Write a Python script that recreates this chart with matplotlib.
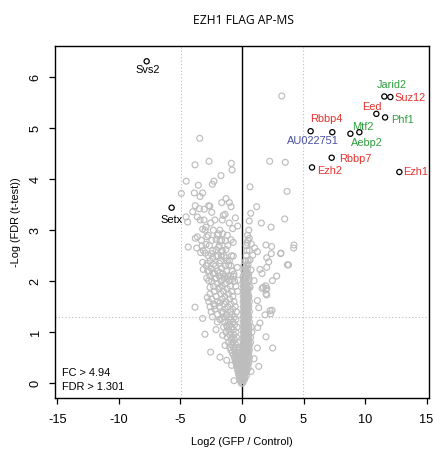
import matplotlib
matplotlib.use("Agg")
import matplotlib.pyplot as plt

# ---------------- data ----------------
title = "EZH1 FLAG AP-MS"
x_label = "Log2 (GFP / Control)"
y_label = "-Log (FDR (t-test))"
x_ticks = [-15, -10, -5, 0, 5, 10, 15]
y_ticks = [0, 1, 2, 3, 4, 5, 6]
fc_cut = 4.94
fdr_cut = 1.301

genes = ["Svs2", "Setx", "Jarid2", "Suz12", "Eed", "Phf1", "Rbbp4", "AU022751",
         "Mtf2", "Aebp2", "Rbbp7", "Ezh2", "Ezh1"]
gene_x = [-7.75, -5.72, 11.57, 12.06, 10.92, 11.63, 7.34, 5.58, 9.54, 8.81, 7.29, 5.69, 12.79]
gene_y = [6.31, 3.44, 5.62, 5.61, 5.28, 5.21, 4.92, 4.94, 4.92, 4.89, 4.42, 4.23, 4.14]
gene_group = ["none", "none", "green", "red", "red", "green", "red", "blue",
              "green", "green", "red", "red", "red"]

# scattered (individually readable) background proteins
grey_points = [
    (3.23, 5.63), (-3.44, 4.80), (-3.82, 4.28), (-2.68, 4.35), (-0.87, 4.31), (-0.81, 4.18),
    (-1.71, 4.07), (-2.28, 3.96), (-2.41, 3.90), (-3.55, 3.88), (-4.53, 3.96), (-4.93, 3.72),
    (-3.88, 3.73), (-3.20, 3.73), (2.25, 4.35), (3.52, 4.33), (0.65, 3.85), (3.66, 3.76),
    (-3.41, 3.66), (-3.80, 3.48), (-3.47, 3.42), (-3.07, 3.41), (-2.71, 3.48), (-2.62, 3.47),
    (-4.01, 3.36), (-2.46, 3.35), (-1.65, 3.54), (-1.30, 3.62), (-1.03, 3.54), (-0.89, 3.46),
    (-1.52, 3.29), (-1.38, 3.31), (-0.54, 3.24), (-4.55, 3.26), (-4.42, 3.16), (-3.63, 3.26),
    (-3.09, 3.20), (-2.55, 3.14), (-2.93, 3.06), (-3.20, 3.02), (-2.33, 3.00), (-1.92, 2.93),
    (-1.57, 2.93), (-1.03, 3.14), (-0.35, 3.08), (-0.76, 3.03), (-3.63, 2.87), (-3.80, 2.84),
    (-2.87, 2.87), (-2.11, 2.82), (-1.79, 2.79), (-1.36, 2.79), (-0.89, 2.81), (-0.71, 2.76),
    (-4.37, 2.67), (-3.68, 2.65), (-3.25, 2.69), (-2.93, 2.72), (-3.36, 2.56), (-2.98, 2.55),
    (-2.50, 2.54), (-2.11, 2.62), (-1.89, 2.66), (-1.65, 2.59), (-1.30, 2.62), (-2.38, 2.46),
    (-2.06, 2.48), (-1.68, 2.49), (-1.30, 2.46), (-1.03, 2.40), (-3.20, 2.37), (-2.82, 2.35),
    (-2.33, 2.33), (-1.85, 2.35), (-1.08, 2.32), (-0.71, 2.49), (-3.15, 2.23), (-2.66, 2.20),
    (-2.22, 2.15), (-1.79, 2.17), (-1.41, 2.09), (-0.92, 2.10), (-0.65, 2.14), (-0.38, 2.27),
    (-2.87, 2.06), (-2.71, 2.01), (-2.11, 2.06), (-1.63, 2.03), (-1.20, 2.05), (-0.87, 2.03),
    (-2.60, 1.88), (-1.79, 1.88), (-0.30, 2.02),
    (1.19, 3.46), (0.71, 3.33), (0.59, 3.18), (1.57, 3.14), (2.36, 3.06), (3.47, 3.22),
    (0.59, 2.84), (0.43, 2.75), (0.76, 2.73), (1.03, 2.65), (1.25, 2.58), (1.95, 2.71),
    (2.41, 2.68), (2.38, 2.54), (3.14, 2.54), (4.23, 2.71), (4.20, 2.65), (0.87, 2.51),
    (0.65, 2.42), (0.49, 2.33), (2.01, 2.46), (2.17, 2.38), (2.01, 2.27), (3.69, 2.32),
    (3.78, 2.32), (0.73, 2.22), (0.54, 2.14), (1.46, 2.23), (1.63, 2.15), (2.82, 2.10),
    (0.59, 2.04), (0.98, 2.01), (1.73, 1.88), (2.01, 1.86), (0.65, 1.88),
    (-3.82, 1.49), (-3.20, 1.27), (-3.01, 0.96), (-2.11, 1.05), (-2.55, 0.61), (-2.82, 1.68),
    (-2.20, 1.52), (-1.79, 1.58), (-1.52, 1.39), (-1.65, 1.26), (-1.24, 1.13), (-1.57, 0.94),
    (-1.38, 0.74), (-1.79, 0.51), (-1.24, 0.45), (-0.84, 0.35), (-0.65, 0.05), (1.25, 1.62),
    (1.36, 1.48), (2.44, 1.43), (2.33, 1.36), (1.87, 1.34), (1.46, 1.18), (1.28, 1.09),
    (1.95, 0.91), (2.49, 0.69), (1.25, 0.69), (1.36, 0.33), (0.73, 0.23), (0.98, 0.48),
    (2.01, 1.73), (1.63, 1.86), (1.95, 1.83), (3.17, 2.55), (2.47, 2.01), (1.93, 1.91),
    (1.95, 1.75), (2.28, 1.42),
]

# dense core near zero, read row by row: y value -> x values of the circles in that row
core_rows = {
    0.00: [-0.05, 0.05],
    0.05: [-0.15, 0.0, 0.15],
    0.10: [-0.2, -0.05, 0.1, 0.25],
    0.15: [-0.25, -0.1, 0.05, 0.2, 0.35],
    0.20: [-0.3, -0.15, 0.0, 0.15, 0.3],
    0.25: [-0.35, -0.2, -0.05, 0.1, 0.25, 0.4],
    0.30: [-0.4, -0.25, -0.1, 0.05, 0.2, 0.35, 0.5],
    0.35: [-0.45, -0.3, -0.15, 0.0, 0.15, 0.3, 0.45],
    0.40: [-0.5, -0.35, -0.2, -0.05, 0.1, 0.25, 0.4, 0.55],
    0.45: [-0.55, -0.4, -0.25, -0.1, 0.05, 0.2, 0.35, 0.5],
    0.50: [-0.6, -0.45, -0.3, -0.15, 0.0, 0.15, 0.3, 0.45, 0.6],
    0.55: [-0.7, -0.5, -0.35, -0.2, 0.05, 0.2, 0.35, 0.5],
    0.60: [-0.8, -0.55, -0.4, -0.25, 0.1, 0.25, 0.4, 0.55],
    0.65: [-0.9, -0.6, -0.3, 0.15, 0.3, 0.45, 0.6],
    0.70: [-1.0, -0.7, -0.45, -0.2, 0.1, 0.25, 0.4, 0.55],
    0.75: [-0.85, -0.5, 0.15, 0.3, 0.45, 0.6],
    0.80: [-1.1, -0.75, -0.35, 0.1, 0.25, 0.4, 0.55, 0.7],
    0.85: [-0.9, -0.6, 0.2, 0.35, 0.5],
    0.90: [-1.2, -0.8, -0.45, 0.1, 0.25, 0.4, 0.55, 0.7],
    0.95: [-1.0, -0.65, 0.2, 0.35, 0.5],
    1.00: [-1.3, -0.9, -0.5, 0.1, 0.25, 0.4, 0.55, 0.8],
    1.05: [-1.1, -0.7, 0.2, 0.35, 0.5],
    1.10: [-1.5, -1.2, -0.85, -0.4, 0.1, 0.25, 0.4, 0.55, 0.75],
    1.15: [-1.0, -0.6, 0.2, 0.35, 0.5],
    1.20: [-2.0, -1.4, -1.1, -0.75, 0.1, 0.25, 0.4, 0.6],
    1.25: [-1.8, -0.9, -0.5, 0.2, 0.35, 0.5],
    1.30: [-2.4, -1.5, -1.0, -0.6, 0.1, 0.25, 0.4, 0.55],
    1.35: [-2.0, -1.25, -0.8, 0.2, 0.35, 0.5],
    1.40: [-2.5, -1.65, -0.95, -0.45, 0.1, 0.25, 0.4, 0.6],
    1.45: [-2.2, -1.35, -0.75, 0.2, 0.35, 0.5],
    1.50: [-2.6, -1.85, -1.15, -0.55, 0.1, 0.25, 0.4, 0.55],
    1.55: [-2.3, -1.45, -0.9, 0.2, 0.35, 0.5],
    1.60: [-2.7, -2.0, -1.3, -0.65, 0.1, 0.25, 0.4, 0.6],
    1.65: [-2.45, -1.6, -1.0, 0.2, 0.35, 0.5],
    1.70: [-2.1, -1.4, -0.75, 0.1, 0.25, 0.4, 0.55],
    1.75: [-2.6, -1.7, -1.1, 0.2, 0.35, 0.5],
    1.80: [-2.25, -1.5, -0.85, -0.35, 0.1, 0.25, 0.4],
    1.85: [-1.9, -1.2, 0.2, 0.35, 0.5],
    1.90: [-2.3, -1.6, -0.95, -0.5, 0.1, 0.25, 0.4, 0.6],
    1.95: [-2.0, -1.35, 0.2, 0.35],
    2.00: [-2.45, -1.7, -1.05, -0.6, 0.1, 0.25, 0.45],
    2.05: [-2.2, -1.45, 0.2, 0.35],
    2.10: [-2.6, -1.85, -1.15, -0.7, 0.1, 0.3, 0.5],
    2.15: [-2.35, -1.55, 0.25, 0.4],
    2.20: [-2.8, -2.0, -1.25, -0.8, 0.15, 0.35],
    2.25: [-2.5, -1.65, 0.25, 0.45],
    2.30: [-2.9, -2.15, -1.35, -0.9, 0.15, 0.35],
    2.40: [-2.6, -1.75, -1.2, 0.3, 0.5],
    2.50: [-2.75, -1.95, -1.45, -0.85, 0.35],
    2.60: [-3.15, -2.4, -1.6, 0.4, 0.6],
    2.70: [-2.65, -1.85, -1.15, 0.35],
    2.80: [-3.3, -2.45, -1.65, 0.5],
    2.90: [-2.75, -2.0, -1.2, 0.45],
    3.00: [-3.0, -1.8, 0.55],
    3.20: [-3.4, -2.2, -1.6],
}

# ---------------- style ----------------
colors = {"none": "black", "red": "#e8322e", "green": "#2f9e3f", "blue": "#4b4fa3"}
grey = "#bdbdbd"
plt.rcParams["font.family"] = ["Liberation Sans", "DejaVu Sans"]
fs = 7.9

# label offsets in points (dx, dy, ha)
label_offsets = {
    "Svs2": (0.7, -6.5, "center"), "Setx": (-0.4, -8.8, "center"),
    "Jarid2": (5.3, 8.2, "center"), "Suz12": (2.9, -0.5, "left"),
    "Eed": (-3.1, 5.2, "center"), "Phf1": (4.3, -1.9, "left"),
    "Rbbp4": (-4.2, 9.2, "center"), "AU022751": (1.7, -7.4, "center"),
    "Mtf2": (2.3, 3.8, "center"), "Aebp2": (11.9, -6.8, "center"),
    "Rbbp7": (5.3, -0.9, "left"), "Ezh2": (3.4, -2.9, "left"),
    "Ezh1": (2.9, -0.2, "left"),
}

W, H = 441, 454
fig = plt.figure(figsize=(W / 100, H / 100), dpi=100)
ax = fig.add_axes([55 / W, 1 - 398 / H, (429 - 55) / W, (398 - 46) / H])

ax.set_xlim(-15.2, 15.2)
ax.set_ylim(-0.29, 6.61)

# reference lines
ax.axvline(0, color="black", lw=1.0, zorder=1)
for v in (-fc_cut, fc_cut):
    ax.axvline(v, color=grey, lw=0.8, ls=(0, (1, 2)), zorder=1)
ax.axhline(fdr_cut, color=grey, lw=0.8, ls=(0, (1, 2)), zorder=1)

gx = [p[0] for p in grey_points]
gy = [p[1] for p in grey_points]
for yv, xs in core_rows.items():
    gx.extend(xs)
    gy.extend([yv] * len(xs))
ax.scatter(gx, gy, s=18, facecolors="none", edgecolors=grey, linewidths=0.85, zorder=2)
ax.scatter(gene_x, gene_y, s=14, facecolors="none", edgecolors="black", linewidths=0.9, zorder=3)

for g, x, y, grp in zip(genes, gene_x, gene_y, gene_group):
    dx, dy, ha = label_offsets[g]
    ax.annotate(g, (x, y), xytext=(dx, dy), textcoords="offset points",
                ha=ha, va="center", fontsize=fs, color=colors[grp], zorder=4)

ax.text(62 / W, 1 - 373.3 / H, f"FC > {fc_cut}", transform=fig.transFigure,
        ha="left", va="center", fontsize=fs)
ax.text(62 / W, 1 - 386.7 / H, f"FDR > {fdr_cut}", transform=fig.transFigure,
        ha="left", va="center", fontsize=fs)

ax.set_xticks(x_ticks)
ax.set_xticklabels([str(t) for t in x_ticks])
ax.set_yticks(y_ticks)
ax.set_yticklabels([str(t) for t in y_ticks], rotation=90, va="center")
ax.tick_params(axis="x", length=4.5, width=0.9, pad=7, labelsize=9.2)
ax.tick_params(axis="y", length=4.5, width=0.9, pad=5, labelsize=9.2)
for sp in ax.spines.values():
    sp.set_linewidth(1.0)

ax.set_xlabel(x_label, fontsize=fs)
ax.xaxis.set_label_coords(0.5, (398 - 441.7) / (398 - 46))
ax.xaxis.label.set_va("center")
ax.set_ylabel(y_label, fontsize=fs)
ax.yaxis.set_label_coords((16 - 55) / (429 - 55), 0.5)
ax.yaxis.label.set_va("center")

fig.text(243.5 / W, 1 - 20 / H, title, ha="center", va="center", fontsize=8.7,
         family=["Open Sans", "DejaVu Sans"])

fig.savefig("out.png", dpi=100)
